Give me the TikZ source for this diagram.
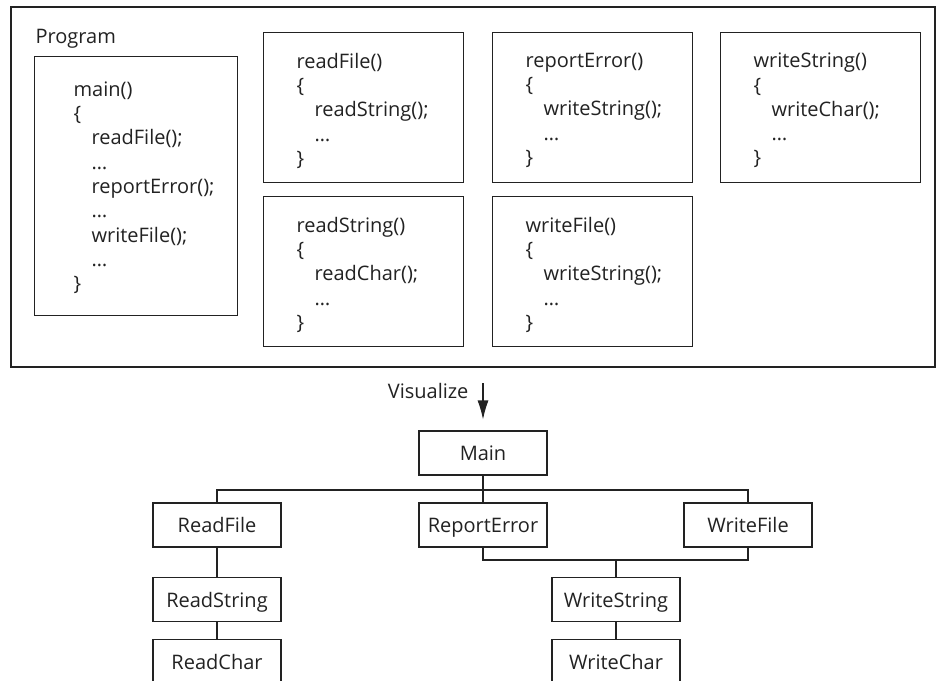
\documentclass[tikz,border=0pt]{standalone}
\usepackage{fontspec}
\setmainfont{Open Sans}
\usetikzlibrary{positioning,arrows.meta}
\definecolor{ink}{HTML}{222222}
\newcommand{\indt}{\hspace*{18pt}}

\begin{document}
\begin{tikzpicture}[x=1pt,y=-1pt,line width=1.1pt,color=ink,
  fnbox/.style={draw,rectangle,anchor=north west,minimum width=200pt,minimum height=150pt,inner sep=0pt},
  code/.style={anchor=north west,align=left,inner sep=0pt,font=\fontsize{20}{24.3}\selectfont},
  unit/.style={draw,rectangle,minimum width=128pt,minimum height=44pt,inner sep=0pt,
    text height=17pt,text depth=2pt,font=\fontsize{20}{22}\selectfont}]
\useasboundingbox (0,0) rectangle (936,680);
%---Program------------------------------------------
\draw (11,7) rectangle (935,367);
\node[code,anchor=base west] (proglabel) at (35,43) {Program};
\node[fnbox,minimum width=203pt,minimum height=259pt] (mainfn) at (34,56) {};
\node[code,below right=25pt and 39pt of mainfn.north west] (maintext)
  {main()\\\{\\\indt readFile();\\\indt …\\\indt reportError();\\\indt …\\\indt writeFile();\\\indt …\\\}};
\node[fnbox] (readfilefn) at (263,32) {};
\node[code,below right=20.5pt and 33pt of readfilefn.north west] (readfiletext)
  {readFile()\\\{\\\indt readString();\\\indt …\\\}};
\node[fnbox] (readstringfn) at (263,196) {};
\node[code,below right=20.5pt and 33pt of readstringfn.north west] (readstringtext)
  {readString()\\\{\\\indt readChar();\\\indt …\\\}};
\node[fnbox] (reporterrorfn) at (492,32) {};
\node[code,below right=20.5pt and 33pt of reporterrorfn.north west] (reporterrortext)
  {reportError()\\\{\\\indt writeString();\\\indt …\\\}};
\node[fnbox] (writefilefn) at (492,196) {};
\node[code,below right=20.5pt and 33pt of writefilefn.north west] (writefiletext)
  {writeFile()\\\{\\\indt writeString();\\\indt …\\\}};
\node[fnbox] (writestringfn) at (720,32) {};
\node[code,below right=20.5pt and 33pt of writestringfn.north west] (writestringtext)
  {writeString()\\\{\\\indt writeChar();\\\indt …\\\}};
%---Chart--------------------------------------------
\node[unit] (main) at (483,453) {Main};
\node[unit] (readfile) at (217,525) {ReadFile};
\node[unit] (reporterror) at (483,525) {ReportError};
\node[unit] (writefile) at (748,525) {WriteFile};
\node[unit] (readstring) at (217,599.5) {ReadString};
\node[unit] (readchar) at (217,661.5) {ReadChar};
\node[unit] (writestring) at (616,599.5) {WriteString};
\node[unit] (writechar) at (616,661.5) {WriteChar};
%---Visualize----------------------------------------
\node[code,anchor=base east] (visualize) at (469,398) {Visualize};
\coordinate (vistop) at (483,383);
\draw[-{Latex[length=19pt,width=11pt]},shorten >=11pt] (vistop) -- (main.north);
%---lines--------------------------------------------
\coordinate (topbus) at (0,490);
\coordinate (lowbus) at (0,560);
\draw (readfile.north) |- (topbus -| writefile) -- (writefile.north);
\draw (main) -- (reporterror);
\draw (reporterror.south) |- (lowbus -| writefile) -- (writefile.south);
\draw (lowbus -| writestring) -- (writestring);
\draw (readfile) -- (readstring) -- (readchar);
\draw (writestring) -- (writechar);
\end{tikzpicture}
\end{document}
